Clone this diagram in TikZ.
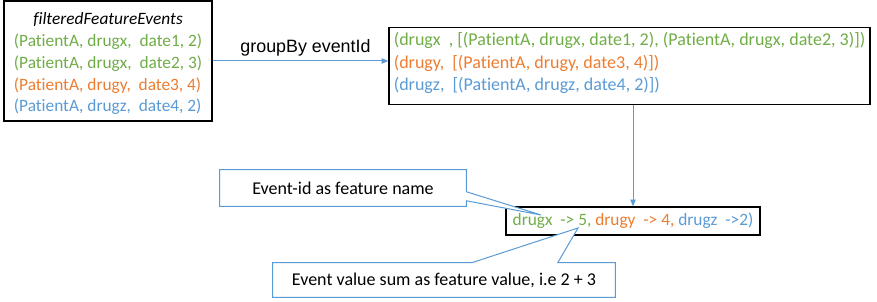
\documentclass[tikz,border=0pt]{standalone}
\usepackage{fontspec}
\setmainfont{Carlito}[Ligatures=NoCommon]
\newfontfamily\arialfont{Liberation Sans}
\usetikzlibrary{arrows.meta,calc}
\definecolor{cgreen}{HTML}{70AD47}
\definecolor{corange}{HTML}{ED7D31}
\definecolor{cblue}{HTML}{5B9BD5}
\begin{document}
\begin{tikzpicture}[x=0.75pt,y=-0.75pt,
  txt/.style={font=\fontsize{13}{16.3}\selectfont},
  databox/.style={txt,draw=black,line width=1pt,rectangle,inner sep=2pt,align=left},
  flow/.style={draw=cblue,line width=0.75pt,-{Triangle[length=5pt,width=4pt]}},
  callout/.style={draw=cblue,line width=0.75pt,fill=white,line join=miter},
  calltext/.style={font=\fontsize{13.5}{16.3}\selectfont,inner sep=0pt,minimum height=0pt}]
\useasboundingbox (0,0) rectangle (877,302);
\fill[white] (0,0) rectangle (877,302);

% box 1
\node[databox,minimum width=156pt,minimum height=87pt] (b1) at (108,61)
 {\begin{tabular}{@{}l@{}}
  \multicolumn{1}{@{}c@{}}{\rule{0pt}{15.9pt}\textit{filteredFeatureEvents}}\\
  \textcolor{cgreen}{(PatientA, drugx,\ \ date1, 2)}\\
  \textcolor{cgreen}{(PatientA, drugx,\ \ date2, 3)}\\
  \textcolor{corange}{(PatientA, drugy,\ \ date3, 4)}\\
  \textcolor{cblue}{(PatientA, drugz,\ \ date4, 2)}
 \end{tabular}};

% box 2
\node[databox,font=\fontsize{13.5}{16.8}\selectfont,minimum width=360.75pt,minimum height=46.5pt] (b2) at (629.5,66)
 {\begin{tabular}{@{}l@{}}
  \textcolor{cgreen}{(drugx\ \ , [(PatientA, drugx, date1, 2), (PatientA, drugx, date2, 3)])}\\
  \textcolor{corange}{(drugy,\ \ [(PatientA, drugy, date3, 4)])}\\
  \textcolor{cblue}{(drugz,\ \ [(PatientA, drugz, date4, 2)])}\rule[-8.5pt]{0pt}{0pt}
 \end{tabular}};

% box 3
\node[databox,minimum width=190.5pt,minimum height=21pt] (b3) at (633,221)
 {\textcolor{cgreen}{drugx\ \ -> 5,} \textcolor{corange}{drugy\ \ -> 4,} \textcolor{cblue}{drugz\ \ ->2)}};

% connectors
\draw[flow] (b1.east) -- (b1.east -| b2.west)
  node[midway,above=0pt,xshift=3.75pt,font=\arialfont\fontsize{13.4}{16}\selectfont,text=black] (lbl) {groupBy eventId};
\draw[flow] (b3.north |- b2.south) -- (b3.north);

% callout 1
\node[minimum width=184.5pt,minimum height=27pt,inner sep=0pt] (c1) at (343,188) {};
\coordinate (t1) at (541,215);
\draw[callout] (c1.north west) -- (c1.north east) -- ($(c1.north east)+(0,22)$) -- (t1)
  -- ($(c1.north east)+(0,31)$) -- (c1.south east) -- (c1.south west) -- cycle;
\node[calltext] (c1t) at (c1.center) {Event-id as feature name};

% callout 2
\node[minimum width=256.5pt,minimum height=25.5pt,inner sep=0pt] (c2) at (444,280) {};
\coordinate (t2) at (578,228);
\draw[callout] (c2.north west) -- ($(c2.north west)+(199,0)$) -- (t2)
  -- ($(c2.north west)+(285,0)$) -- (c2.north east) -- (c2.south east) -- (c2.south west) -- cycle;
\node[calltext] (c2t) at (c2.center) {Event value sum as feature value, i.e 2 + 3};
\end{tikzpicture}
\end{document}
